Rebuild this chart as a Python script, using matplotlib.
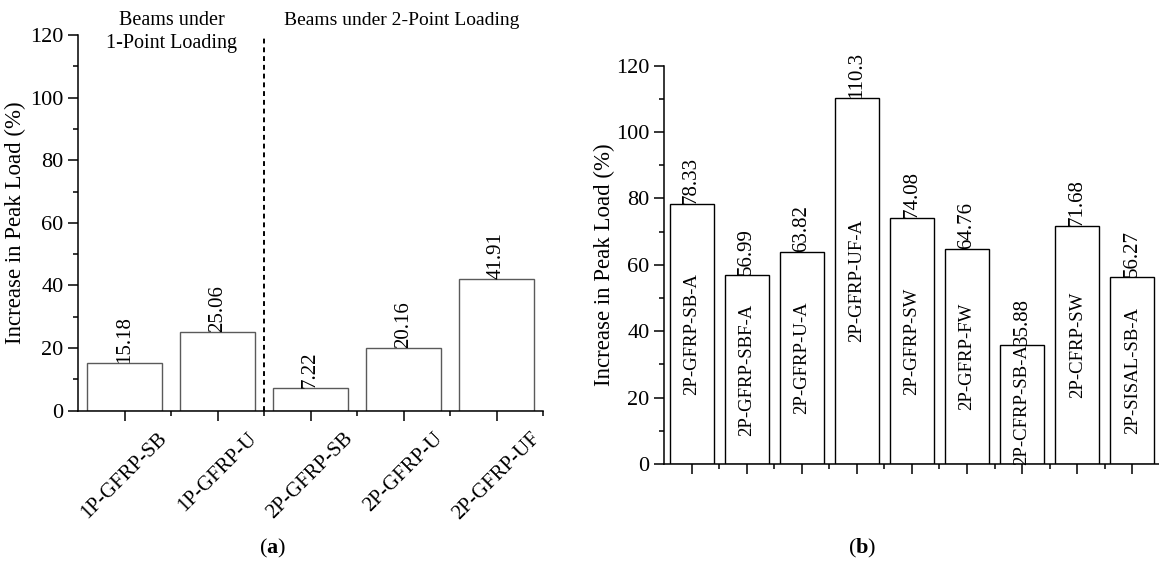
import numpy as np
import matplotlib
matplotlib.use('Agg')
import matplotlib.pyplot as plt
from matplotlib.ticker import MultipleLocator

plt.rcParams['font.family'] = ['Liberation Serif', 'DejaVu Serif']
plt.rcParams['mathtext.fontset'] = 'custom'
plt.rcParams['mathtext.rm'] = 'Liberation Serif'
plt.rcParams['mathtext.bf'] = 'Liberation Serif:bold'
plt.rcParams['axes.linewidth'] = 1.1

# panel (a)
names_a = ['1P-GFRP-SB', '1P-GFRP-U', '2P-GFRP-SB', '2P-GFRP-U', '2P-GFRP-UF']
values_a = [15.18, 25.06, 7.22, 20.16, 41.91]
# panel (b)
names_b = ['2P-GFRP-SB-A', '2P-GFRP-SBF-A', '2P-GFRP-U-A', '2P-GFRP-UF-A', '2P-GFRP-SW',
           '2P-GFRP-FW', '2P-CFRP-SB-A', '2P-CFRP-SW', '2P-SISAL-SB-A']
values_b = [78.33, 56.99, 63.82, 110.3, 74.08, 64.76, 35.88, 71.68, 56.27]
labels_b = ['78.33', '56.99', '63.82', '110.3', '74.08', '64.76', '35.88', '71.68', '56.27']

W, H = 1159, 563
fig = plt.figure(figsize=(W/100, H/100), dpi=100)

def frac(x0, x1, ytop, ybot):
    return [x0/W, 1-ybot/H, (x1-x0)/W, (ybot-ytop)/H]

ax1 = fig.add_axes(frac(78, 543, 35, 410.7))
ax2 = fig.add_axes(frac(664, 1159.8, 65.7, 464))


def style(ax, n):
    for s in ['top', 'right']:
        ax.spines[s].set_visible(False)
    ax.set_xlim(0.5, n + 0.5)
    ax.set_ylim(0, 120)
    ax.yaxis.set_major_locator(MultipleLocator(20))
    ax.yaxis.set_minor_locator(MultipleLocator(10))
    ax.set_xticks(np.arange(1, n + 1))
    ax.set_xticks(np.arange(1.5, n + 0.6, 1), minor=True)
    ax.tick_params(which='major', direction='out', length=7, width=1.1, labelsize=16)
    ax.tick_params(which='minor', direction='out', length=3.5, width=1.1)
    ax.set_ylabel('Increase in Peak Load (%)', fontsize=16.5)


# ---- (a)
x1 = np.arange(1, len(values_a) + 1)
ax1.bar(x1, values_a, width=0.8, facecolor='white', edgecolor='#5a5a5a', linewidth=1.0)
style(ax1, len(values_a))
ax1.set_xticklabels(names_a, rotation=45, ha='center', va='top', fontsize=15)
ax1.tick_params(axis='x', which='major', pad=6)
ax1.yaxis.set_label_coords(-0.112, 0.5)
for xi, v in zip(x1, values_a):
    ax1.text(xi, v, '%.2f' % v, rotation=90, ha='center', va='bottom', fontsize=15)
ax1.plot([2.5, 2.5], [0, 120], linestyle=(0, (2.5, 2)), color='black', linewidth=1.4, clip_on=False)
ax1.text(1.51, 121.0, 'Beams under\n1-Point Loading', ha='center', va='center',
         fontsize=14.5, linespacing=1.3, clip_on=False)
ax1.text(3.98, 124.5, 'Beams under 2-Point Loading', ha='center', va='center',
         fontsize=14, clip_on=False)

# ---- (b)
x2 = np.arange(1, len(values_b) + 1)
ax2.bar(x2, values_b, width=0.8, facecolor='white', edgecolor='black', linewidth=1.0)
style(ax2, len(values_b))
ax2.set_xticklabels([])
ax2.yaxis.set_label_coords(-0.099, 0.5)
for xi, v, lab, nm in zip(x2, values_b, labels_b, names_b):
    ax2.text(xi, v, lab, rotation=90, ha='center', va='bottom', fontsize=15)
    ax2.text(xi, v / 2, nm, rotation=90, ha='center', va='center', fontsize=13.5)

# panel letters
fig.text(273/W, 1-548/H, r'($\mathbf{a}$)', ha='center', va='center', fontsize=16)
fig.text(862/W, 1-548/H, r'($\mathbf{b}$)', ha='center', va='center', fontsize=16)

plt.savefig('out.png', dpi=100)
